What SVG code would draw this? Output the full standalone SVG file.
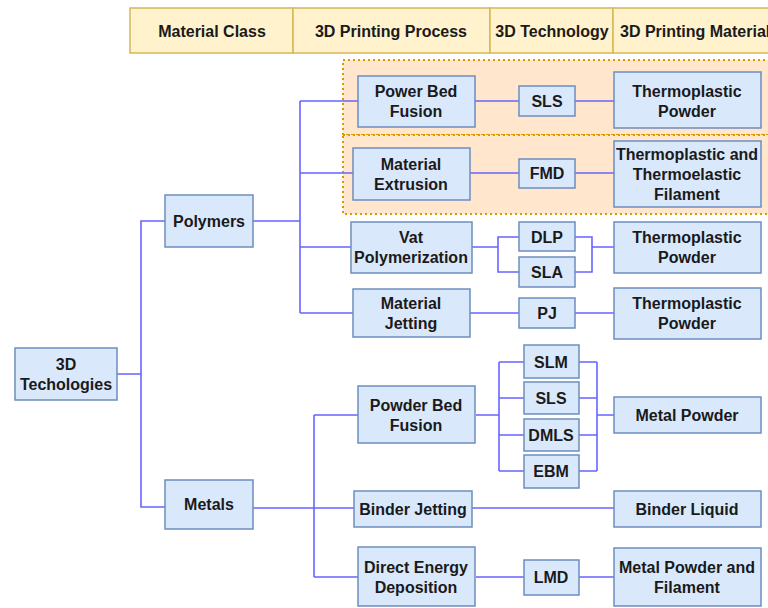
<svg xmlns="http://www.w3.org/2000/svg" width="768" height="608" viewBox="0 0 768 608">
<style>
.hdr{fill:#fff2cc;stroke:#d6b656;stroke-width:1.5}
.grp{fill:#ffe6cc;stroke:#d79b00;stroke-width:2;stroke-dasharray:2 3}
.n rect{fill:#dae8fc;stroke:#6c8ebf;stroke-width:1.5}
text{font-family:"Liberation Sans",Arial,sans-serif;font-weight:bold;font-size:16px;fill:#1a1a1a;text-anchor:middle;dominant-baseline:central}
.c path{fill:none;stroke:#6666ff;stroke-width:1.6}
</style>
<rect width="768" height="608" fill="#ffffff"/>
<g id="header">
<rect class="hdr" x="130" y="8" width="163" height="45"/>
<rect class="hdr" x="293" y="8" width="197" height="45"/>
<rect class="hdr" x="490" y="8" width="123" height="45"/>
<rect class="hdr" x="613" y="8" width="170" height="45"/>
<text x="212" y="31">Material Class</text>
<text x="391" y="31">3D Printing Process</text>
<text x="552" y="31">3D Technology</text>
<text x="620" y="31" style="text-anchor:start">3D Printing Material</text>
</g>
<g id="groups">
<rect class="grp" x="343" y="60" width="440" height="75"/>
<rect class="grp" x="343" y="135" width="440" height="79"/>
</g>
<g class="c" id="connectors">
<path d="M117,374 H141 V221 H165 M141,374 V507 H165"/>
<path d="M253,221 H300 M300,101 V313 M300,101 H358 M300,173 H353 M300,247 H351 M300,313 H353"/>
<path d="M475,101 H519 M575,101 H614"/>
<path d="M470,173 H519 M575,173 H614"/>
<path d="M472,247 H498 M519,237 H498 V272 H519 M575,237 H592 V272 H575 M592,247 H614"/>
<path d="M470,313 H519 M575,313 H614"/>
<path d="M253,508 H314 M314,415 V577 M314,415 H358 M314,508 H354 M314,577 H358"/>
<path d="M476,415 H499 M499,362 V471 M499,362 H524 M499,398 H524 M499,435 H524 M499,471 H524"/>
<path d="M579,362 H597 M579,398 H597 M579,435 H597 M579,471 H597 M597,362 V471 M597,415 H614"/>
<path d="M472,508 H614"/>
<path d="M476,577 H524 M579,577 H614"/>
</g>
<g class="n" id="n-3dtech"><rect x="15" y="348" width="102" height="52"/><text x="66" y="364">3D</text><text x="66" y="384">Techologies</text></g>
<g class="n" id="n-polymers"><rect x="165" y="195" width="88" height="52"/><text x="209" y="221">Polymers</text></g>
<g class="n" id="n-metals"><rect x="165" y="480" width="88" height="49"/><text x="209" y="504">Metals</text></g>
<g class="n" id="n-pbf1"><rect x="358" y="76" width="117" height="51"/><text x="416" y="91">Power Bed</text><text x="416" y="111">Fusion</text></g>
<g class="n" id="n-sls1"><rect x="519" y="86" width="56" height="30"/><text x="547" y="101">SLS</text></g>
<g class="n" id="n-tp1"><rect x="614" y="72" width="147" height="56"/><text x="687" y="91">Thermoplastic</text><text x="687" y="111">Powder</text></g>
<g class="n" id="n-mext"><rect x="353" y="148" width="117" height="52"/><text x="411" y="164">Material</text><text x="411" y="184">Extrusion</text></g>
<g class="n" id="n-fmd"><rect x="519" y="159" width="56" height="29"/><text x="547" y="173">FMD</text></g>
<g class="n" id="n-ttf"><rect x="614" y="141" width="147" height="66"/><text x="687" y="154">Thermoplastic and</text><text x="687" y="174">Thermoelastic</text><text x="687" y="194">Filament</text></g>
<g class="n" id="n-vat"><rect x="351" y="222" width="121" height="51"/><text x="411" y="237">Vat</text><text x="411" y="257">Polymerization</text></g>
<g class="n" id="n-dlp"><rect x="519" y="222" width="56" height="29"/><text x="547" y="237">DLP</text></g>
<g class="n" id="n-sla"><rect x="519" y="257" width="56" height="30"/><text x="547" y="272">SLA</text></g>
<g class="n" id="n-tp2"><rect x="614" y="222" width="147" height="51"/><text x="687" y="237">Thermoplastic</text><text x="687" y="257">Powder</text></g>
<g class="n" id="n-mjet"><rect x="353" y="289" width="117" height="48"/><text x="411" y="303">Material</text><text x="411" y="323">Jetting</text></g>
<g class="n" id="n-pj"><rect x="519" y="298" width="56" height="30"/><text x="547" y="313">PJ</text></g>
<g class="n" id="n-tp3"><rect x="614" y="288" width="147" height="51"/><text x="687" y="303">Thermoplastic</text><text x="687" y="323">Powder</text></g>
<g class="n" id="n-pbf2"><rect x="358" y="386" width="117" height="57"/><text x="416" y="405">Powder Bed</text><text x="416" y="425">Fusion</text></g>
<g class="n" id="n-slm"><rect x="524" y="345" width="55" height="33"/><text x="551" y="362">SLM</text></g>
<g class="n" id="n-sls2"><rect x="524" y="382" width="55" height="32"/><text x="551" y="398">SLS</text></g>
<g class="n" id="n-dmls"><rect x="524" y="419" width="55" height="32"/><text x="551" y="435">DMLS</text></g>
<g class="n" id="n-ebm"><rect x="524" y="455" width="55" height="33"/><text x="551" y="471">EBM</text></g>
<g class="n" id="n-mp"><rect x="614" y="397" width="147" height="36"/><text x="687" y="415">Metal Powder</text></g>
<g class="n" id="n-bj"><rect x="354" y="491" width="118" height="36"/><text x="413" y="509">Binder Jetting</text></g>
<g class="n" id="n-bl"><rect x="614" y="491" width="147" height="36"/><text x="687" y="509">Binder Liquid</text></g>
<g class="n" id="n-ded"><rect x="358" y="547" width="117" height="59"/><text x="416" y="567">Direct Energy</text><text x="416" y="587">Deposition</text></g>
<g class="n" id="n-lmd"><rect x="524" y="560" width="55" height="35"/><text x="551" y="577">LMD</text></g>
<g class="n" id="n-mpf"><rect x="614" y="548" width="147" height="58"/><text x="687" y="567">Metal Powder and</text><text x="687" y="587">Filament</text></g>
</svg>
